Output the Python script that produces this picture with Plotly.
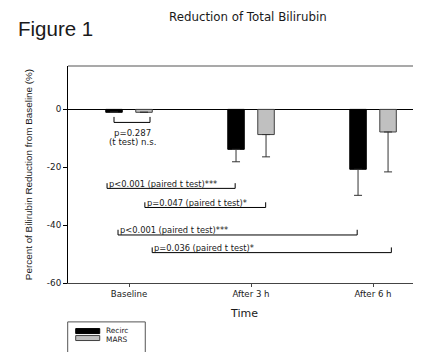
import plotly.graph_objects as go

# ---- data ----
categories = ["Baseline", "After 3 h", "After 6 h"]
recirc = [-1.0, -13.8, -20.7]
recirc_err = [0.0, 4.3, 9.0]
mars = [-1.0, -8.7, -7.8]
mars_err = [0.0, 7.7, 13.8]
y_tick_vals = [-60, -40, -20, 0]
y_tick_text = ["-60", "-40", "-20", "0"]

# significance brackets: (x_start, x_end, y, label) in category units / %
brackets = [
    (-0.18, 0.87, -27.3, "p<0.001 (paired t test)***"),
    (0.13, 1.12, -33.9, "p=0.047 (paired t test)*"),
    (-0.09, 1.87, -43.4, "p<0.001 (paired t test)***"),
    (0.19, 2.15, -49.5, "p=0.036 (paired t test)*"),
]
baseline_bracket = (-0.123, 0.172, -4.5)
baseline_text = ["p=0.287", "(t test) n.s."]

WIDE = "DejaVu Sans, Verdana, sans-serif"
ARIAL = "Arial, Liberation Sans, sans-serif"
TXT = "#1a1a1a"

OFF = 8                      # page body margin
W, H = 421 - OFF, 352 - OFF  # figure size
L, R, T, B = 60.3, 0, 57.7, 68.7
PW, PH = W - L - R, H - T - B


def px(x):  # page pixel -> paper
    return (x - OFF - L) / PW


def py(y):
    return 1 - (y - OFF - T) / PH


xs = list(range(len(categories)))

fig = go.Figure()
fig.add_trace(go.Bar(
    x=xs, y=recirc, name="Recirc",
    marker=dict(color="black", line=dict(color="black", width=1)),
    error_y=dict(type="data", symmetric=False, array=[0] * 3, arrayminus=recirc_err,
                 color="#333333", thickness=1, width=4),
    showlegend=False,
))
fig.add_trace(go.Bar(
    x=xs, y=mars, name="MARS",
    marker=dict(color="#c0c0c0", line=dict(color="#404040", width=1)),
    error_y=dict(type="data", symmetric=False, array=[0] * 3, arrayminus=mars_err,
                 color="#333333", thickness=1, width=4),
    showlegend=False,
))

shapes = []
annotations = []
tick_h = 1.8
for x0, x1, y, label in brackets:
    shapes.append(dict(type="path", xref="x", yref="y",
                       path=f"M {x0},{y + tick_h} L {x0},{y} L {x1},{y} L {x1},{y + tick_h}",
                       line=dict(color="black", width=1)))
    annotations.append(dict(x=x0, y=y, xref="x", yref="y", text=label, showarrow=False,
                            xanchor="left", yanchor="bottom", xshift=0, yshift=-2.5,
                            font=dict(family=WIDE, size=8.3, color=TXT)))
bx0, bx1, by = baseline_bracket
shapes.append(dict(type="path", xref="x", yref="y",
                   path=f"M {bx0},{by + 1.9} L {bx0},{by} L {bx1},{by} L {bx1},{by + 1.9}",
                   line=dict(color="black", width=1)))
for line_txt, yc in zip(baseline_text, (132.5, 142.2)):
    annotations.append(dict(x=px(133), y=py(yc), xref="paper", yref="paper",
                            text=line_txt, showarrow=False,
                            xanchor="center", yanchor="middle",
                            font=dict(family=WIDE, size=8.6, color=TXT)))

# top border
shapes.append(dict(type="line", xref="paper", yref="paper", x0=0, x1=1, y0=1, y1=1,
                   line=dict(color="#8c8c8c", width=1.5)))

# legend box (manual, wide swatches)
shapes.append(dict(type="rect", xref="paper", yref="paper",
                   x0=px(68), x1=px(145.5), y0=py(362), y1=py(322.3),
                   line=dict(color="#555", width=1), fillcolor="white"))
shapes.append(dict(type="rect", xref="paper", yref="paper",
                   x0=px(76), x1=px(100), y0=py(334), y1=py(329),
                   line=dict(color="black", width=1), fillcolor="black"))
shapes.append(dict(type="rect", xref="paper", yref="paper",
                   x0=px(76), x1=px(100), y0=py(341), y1=py(336),
                   line=dict(color="#404040", width=1), fillcolor="#c0c0c0"))
for name, yc in (("Recirc", 330.8), ("MARS", 339.8)):
    annotations.append(dict(x=px(105), y=py(yc), xref="paper", yref="paper", text=name,
                            showarrow=False, xanchor="left", yanchor="middle",
                            borderpad=0,
                            font=dict(family=WIDE, size=7.4, color=TXT)))

# titles
annotations.append(dict(x=px(248), y=py(OFF + 0.5), xref="paper", yref="paper",
                        text="Reduction of Total Bilirubin", showarrow=False,
                        xanchor="center", yanchor="top", borderpad=0,
                        font=dict(family=WIDE, size=11.8, color=TXT)))
annotations.append(dict(x=px(16), y=py(28), xref="paper", yref="paper",
                        text="Figure 1", showarrow=False,
                        xanchor="left", yanchor="middle",
                        font=dict(family=ARIAL, size=20.5, color=TXT)))

fig.update_layout(
    width=W, height=H,
    margin=dict(l=L, r=R, t=T, b=B, pad=0),
    paper_bgcolor="white", plot_bgcolor="white",
    barmode="group", bargap=0.508, bargroupgap=0.45,
    shapes=shapes, annotations=annotations,
    font=dict(family=WIDE, size=8.6, color=TXT),
)
fig.update_xaxes(
    range=[-0.5, 2.393], tickvals=xs, ticktext=categories,
    showline=True, linecolor="#444", linewidth=1,
    ticks="outside", ticklen=3, tickcolor="#444",
    showgrid=False, zeroline=False,
    tickfont=dict(family=WIDE, size=8.6, color=TXT),
    title=dict(text="Time", font=dict(family=WIDE, size=11, color=TXT), standoff=10),
    automargin=False,
)
fig.update_yaxes(
    range=[-60, 15], tickvals=y_tick_vals, ticktext=y_tick_text,
    showline=True, linecolor="black", linewidth=1,
    ticks="outside", ticklen=4, tickcolor="black",
    showgrid=False, zeroline=True, zerolinecolor="black", zerolinewidth=1,
    tickfont=dict(family=WIDE, size=8.8, color=TXT),
    title=dict(text="Percent of Bilirubin Reduction from Baseline (%)",
               font=dict(family=ARIAL, size=9.9, color=TXT), standoff=12),
    automargin=False,
)

fig.write_html("out.html")
